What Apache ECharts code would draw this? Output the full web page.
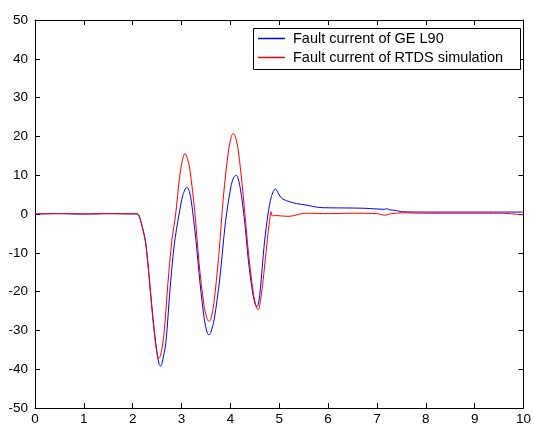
<!DOCTYPE html>
<html>
<head>
<meta charset="utf-8">
<script src="https://cdn.jsdelivr.net/npm/echarts@6/dist/echarts.min.js"></script>
<style>
html,body{margin:0;padding:0;background:#fff;}
#c{width:534px;height:426px;}
</style>
</head>
<body>
<div id="c"></div>
<script>
const seriesNames = ['Fault current of GE L90', 'Fault current of RTDS simulation'];
const xTicks = [0,1,2,3,4,5,6,7,8,9,10];
const yTicks = [-50,-40,-30,-20,-10,0,10,20,30,40,50];

const geT = [0,0.5,1,1.5,2,2.1,2.15,2.2,2.26,2.32,2.39,2.45,2.5,2.54,2.57,2.6,2.68,2.76,2.85,2.95,3.03,3.11,3.16,3.2,3.29,3.38,3.47,3.52,3.56,3.6,3.67,3.78,3.9,4.01,4.07,4.12,4.2,4.29,4.37,4.46,4.51,4.54,4.57,4.6,4.65,4.7,4.77,4.84,4.92,4.97,5.03,5.1,5.2,5.35,5.55,5.8,6.0,6.69,7.0,7.16,7.2,7.25,7.4,7.5,8,9,10];
const geI = [0,0.1,0,0.1,0,0,-1.2,-3.5,-7,-14,-23.5,-31,-36,-38.7,-39.2,-38.5,-33,-20,-8,0,5,6.9,5.8,3.3,-6.2,-18,-27.5,-30.4,-31.2,-30.5,-27,-17,-2,7,9.5,10,6.8,-1.7,-12.2,-20.7,-23.3,-23.9,-23.3,-21,-14,-7,0,4.5,6.5,5.6,4.3,3.7,3.2,2.7,2.3,1.7,1.6,1.5,1.3,1.2,1.4,1.1,0.9,0.6,0.5,0.5,0.5];

const rtdsT = [0,0.5,1,1.5,2,2.1,2.15,2.2,2.26,2.32,2.39,2.45,2.5,2.53,2.57,2.64,2.72,2.8,2.88,2.96,3.02,3.07,3.12,3.17,3.27,3.36,3.46,3.52,3.56,3.6,3.66,3.76,3.86,3.96,4.02,4.06,4.1,4.16,4.26,4.37,4.47,4.53,4.57,4.62,4.67,4.72,4.77,4.81,4.83,4.86,4.9,5.2,5.53,6.0,6.5,7.0,7.16,7.3,7.5,8,8.5,9,9.5,10];
const rtdsI = [0,0.1,0,0.1,0.1,0,-1.2,-3.5,-7,-14,-24,-31.5,-36,-37.2,-36.5,-31,-18,-7,0,9.5,14,15.6,14.3,11.5,0.7,-12.8,-23.6,-26.9,-27.7,-27,-23.1,-11,4.9,16.2,20,20.8,20,16.5,5.1,-10.1,-20.4,-24,-24.7,-22,-17,-11,-5,-1,0.6,-0.5,-0.4,-0.6,0.2,0.1,0.2,0.1,-0.3,0.1,0.3,0.2,0.2,0.2,0.2,-0.2];

const zip = (a,b)=>a.map((v,i)=>[v,b[i]]);

const chart = echarts.init(document.getElementById('c'), null, {renderer:'canvas'});
const font = 'Arial, "Liberation Sans", sans-serif';
const axisCommon = {
  axisLine:{show:true, onZero:false, lineStyle:{color:'#000', width:1}},
  axisTick:{show:true, inside:true, length:5, lineStyle:{color:'#000'}},
  splitLine:{show:false},
};
chart.setOption({
  animation:false,
  backgroundColor:'#fff',
  grid:{left:35, right:8, top:20, bottom:18, containLabel:false},
  xAxis:[
    Object.assign({type:'value', min:0, max:10, interval:1, position:'bottom',
      axisLabel:{color:'#000', fontSize:13.5, fontFamily:font, margin:4,
        formatter:v=>xTicks.includes(v)?String(v):''}}, axisCommon),
    Object.assign({type:'value', min:0, max:10, interval:1, position:'top',
      axisLabel:{show:false}}, axisCommon)
  ],
  yAxis:[
    Object.assign({type:'value', min:-50, max:50, interval:10, position:'left',
      axisLabel:{color:'#000', fontSize:13.5, fontFamily:font, margin:7,
        formatter:v=>yTicks.includes(v)?String(v):''}}, axisCommon),
    Object.assign({type:'value', min:-50, max:50, interval:10, position:'right',
      axisLabel:{show:false}}, axisCommon)
  ],
  graphic:[{
    type:'rect', left:253, top:28, z:90,
    shape:{width:267, height:41},
    style:{fill:'#fff', stroke:'#000', lineWidth:1}
  }],
  legend:{
    orient:'vertical', left:258, top:30, z:100,
    itemWidth:27, itemHeight:1.5, itemGap:2, icon:'rect',
    padding:0,
    textStyle:{color:'#000', fontSize:14.5, lineHeight:17, fontFamily:font, padding:[0,0,0,3]},
    data:seriesNames
  },
  series:[
    {name:seriesNames[0], type:'line', data:zip(geT,geI), showSymbol:false, symbol:'none',
     smooth:0.3, lineStyle:{color:'#0000ff', width:1}, itemStyle:{color:'#0000ff'}, z:3},
    {name:seriesNames[1], type:'line', data:zip(rtdsT,rtdsI), showSymbol:false, symbol:'none',
     smooth:0.3, lineStyle:{color:'#ff0000', width:1}, itemStyle:{color:'#ff0000'}, z:4}
  ]
});
</script>
</body>
</html>
